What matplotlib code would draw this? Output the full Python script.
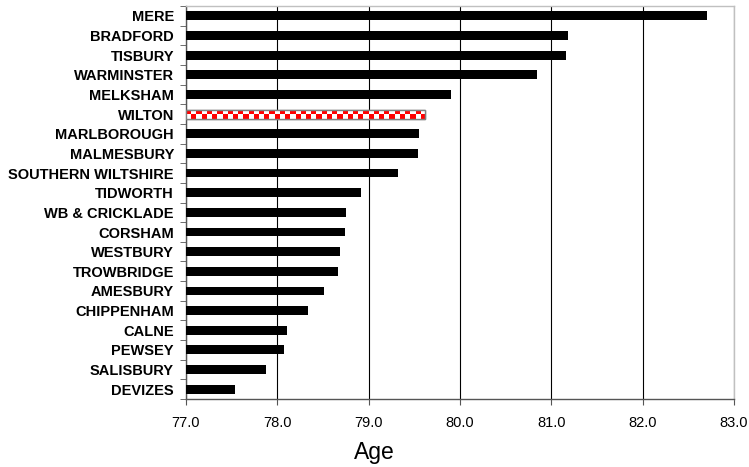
import numpy as np
import matplotlib.pyplot as plt

# Data (top to bottom as shown in the chart)
areas = ['MERE', 'BRADFORD', 'TISBURY', 'WARMINSTER', 'MELKSHAM', 'WILTON',
         'MARLBOROUGH', 'MALMESBURY', 'SOUTHERN WILTSHIRE', 'TIDWORTH',
         'WB & CRICKLADE', 'CORSHAM', 'WESTBURY', 'TROWBRIDGE', 'AMESBURY',
         'CHIPPENHAM', 'CALNE', 'PEWSEY', 'SALISBURY', 'DEVIZES']
ages = [82.70, 81.18, 81.16, 80.84, 79.90, 79.62,
        79.55, 79.54, 79.32, 78.92,
        78.75, 78.74, 78.69, 78.67, 78.51,
        78.34, 78.11, 78.08, 77.88, 77.54]
highlight = 'WILTON'
x_ticks = [77.0, 78.0, 79.0, 80.0, 81.0, 82.0, 83.0]

plt.rcParams['font.family'] = ['Liberation Sans', 'DejaVu Sans']

fig = plt.figure(figsize=(7.49, 4.67), dpi=100)
ax = fig.add_axes([0.248, 0.1456, 0.732, 0.8414])

n = len(areas)
ypos = np.arange(n)[::-1]
base = x_ticks[0]
widths = [a - base for a in ages]

bars = ax.barh(ypos, widths, left=base, height=0.45, color='black', zorder=3)

# checkered highlight bar
hi = areas.index(highlight)
hb = bars[hi]
hb.set_facecolor('white')
hb.set_edgecolor('#808080')
hb.set_linewidth(1.0)
x0, y0 = hb.get_x(), hb.get_y()
x1, y1 = x0 + hb.get_width(), y0 + hb.get_height()
ncell = 46
checker = np.indices((2, ncell)).sum(axis=0) % 2
cmap = plt.matplotlib.colors.ListedColormap(['#ff0000', 'white'])
im = ax.imshow(checker, extent=(x0, x1, y0, y1), cmap=cmap, aspect='auto',
               interpolation='nearest', zorder=4)
im.set_clip_path(hb)
ax.add_patch(plt.Rectangle((x0, y0), x1 - x0, y1 - y0, fill=False,
                           edgecolor='#808080', linewidth=1.0, zorder=5))

ax.set_xlim(x_ticks[0], x_ticks[-1])
ax.set_ylim(-0.5, n - 0.5)
ax.set_xticks(x_ticks)
ax.set_xticklabels([f'{t:.1f}' for t in x_ticks], fontsize=10.5)
ax.set_yticks(ypos)
ax.set_yticklabels(areas, fontsize=10.5, fontweight='bold')
ax.set_yticks(np.arange(-0.5, n, 1.0), minor=True)
ax.tick_params(axis='y', which='major', length=0, pad=8.5)
ax.tick_params(axis='y', which='minor', length=4, direction='out', color='#555555')
ax.tick_params(axis='x', length=4, direction='out', color='#555555', pad=8)

ax.grid(axis='x', color='black', linewidth=0.8, zorder=0)
ax.set_axisbelow(True)

for s in ['top', 'right']:
    ax.spines[s].set_color('#c0c0c0')
for s in ['left', 'bottom']:
    ax.spines[s].set_color('#555555')
for spine in ax.spines.values():
    spine.set_linewidth(1.0)

fig.text(0.5, 0.03, 'Age', ha='center', va='center', fontsize=16.5)

plt.savefig('out.png', dpi=100)
